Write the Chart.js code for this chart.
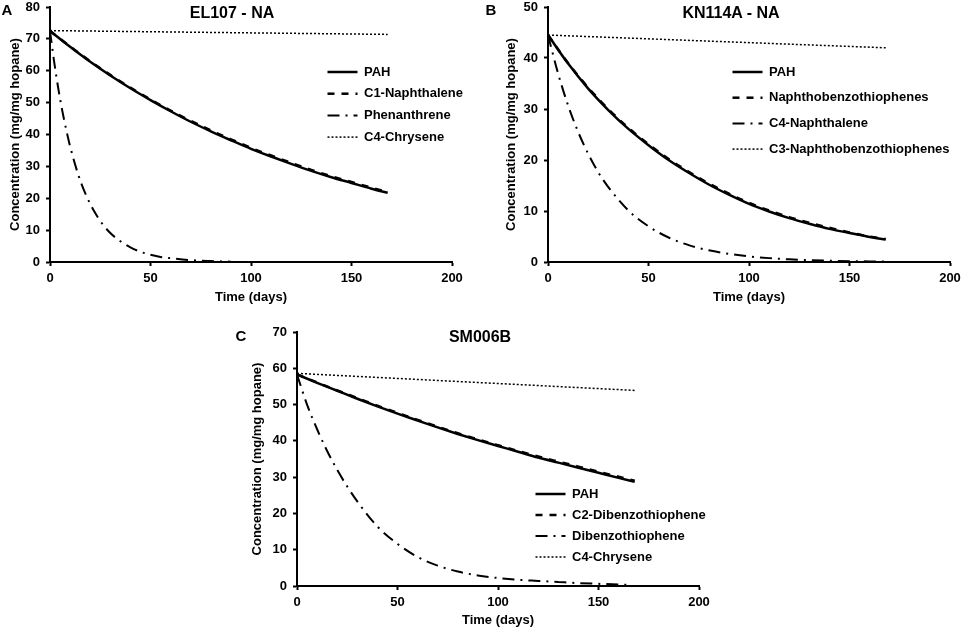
<!DOCTYPE html>
<html><head><meta charset="utf-8">
<script src="https://cdn.jsdelivr.net/npm/chart.js@4.4.0/dist/chart.umd.min.js"></script>
<style>
html,body{margin:0;padding:0;background:#fff;}
body{width:964px;height:630px;position:relative;overflow:hidden;font-family:"Liberation Sans",Arial,sans-serif;}
canvas{position:absolute;}
.lbl{position:absolute;font-weight:bold;color:#000;transform:translate(-50%,-50%);white-space:nowrap;line-height:1;}
</style></head><body>
<canvas id="cA" width="480" height="310" style="left:0;top:0;width:480px;height:310px"></canvas>
<canvas id="cB" width="484" height="310" style="left:480px;top:0;width:484px;height:310px"></canvas>
<canvas id="cC" width="500" height="320" style="left:230px;top:310px;width:500px;height:320px"></canvas>
<div class="lbl" style="left:7px;top:9px;font-size:15px">A</div>
<div class="lbl" style="left:232px;top:13px;font-size:16px">EL107 - NA</div>
<div class="lbl" style="left:491px;top:9px;font-size:15px">B</div>
<div class="lbl" style="left:731px;top:13px;font-size:16px">KN114A - NA</div>
<div class="lbl" style="left:241px;top:335px;font-size:15px">C</div>
<div class="lbl" style="left:480px;top:337px;font-size:16px">SM006B</div>
<script>
// ---------- data ----------
const xAxisTitle = 'Time (days)';
const yAxisTitle = 'Concentration (mg/mg hopane)';
const xMax = 200, xStep = 50;

const days = [0,10,20,30,40,50,60,70,80,90,100,110,120,130,140,150,160,168];
const chryDays = [0, 168];

// Panel A: EL107 - NA
const yMaxA = 80;
const namesA = ['PAH', 'C1-Naphthalene', 'Phenanthrene', 'C4-Chrysene'];
const pahA   = [72.5,67.5,62.8,58.5,54.5,50.8,47.3,44.0,41.0,38.2,35.5,33.1,30.8,28.6,26.6,24.8,23.0,21.7];
const c1NaphA = [72.5,67.6,63.0,58.7,54.7,51.0,47.5,44.3,41.3,38.5,35.8,33.4,31.1,28.9,26.9,25.1,23.3,21.9];
const phenDaysA = [0,2,4,6,8,10,14,18,22,26,30,35,40,45,50,55,60,70,80,90];
const phenA = [72.5,63.1,54.9,47.8,41.7,36.3,27.5,20.9,15.9,12.0,9.1,6.5,4.6,3.2,2.3,1.6,1.2,0.6,0.3,0.1];
const chryA = [72.6, 71.4];

// Panel B: KN114A - NA
const yMaxB = 50;
const namesB = ['PAH', 'Naphthobenzothiophenes', 'C4-Naphthalene', 'C3-Naphthobenzothiophenes'];
const pahB  = [44.5,38.9,34.0,29.8,26.1,22.9,20.0,17.5,15.2,13.2,11.4,9.9,8.6,7.5,6.5,5.7,4.9,4.4];
const nbtB  = [44.5,39.0,34.2,30.0,26.3,23.1,20.2,17.7,15.4,13.4,11.6,10.1,8.8,7.7,6.7,5.8,5.0,4.5];
const c4NaphDaysB = [0,5,10,15,20,25,30,40,50,60,70,80,90,100,110,120,130,140,150,160,168];
const c4NaphB = [44.5,37.0,30.7,25.5,21.2,17.6,14.7,10.1,7.0,4.8,3.3,2.3,1.6,1.1,0.76,0.53,0.36,0.25,0.17,0.12,0.09];
const c3NbtB = [44.5, 42.0];

// Panel C: SM006B
const yMaxC = 70;
const namesC = ['PAH', 'C2-Dibenzothiophene', 'Dibenzothiophene', 'C4-Chrysene'];
const pahC  = [58.3,56.0,53.8,51.6,49.5,47.5,45.6,43.7,41.9,40.2,38.6,37.0,35.4,34.0,32.6,31.2,29.8,28.7];
const c2DbtC = [58.3,56.1,53.9,51.8,49.7,47.7,45.8,43.9,42.1,40.4,38.8,37.2,35.7,34.3,32.9,31.5,30.1,29.0];
const dbtDaysC = [0,5,10,15,20,25,30,40,50,60,70,80,90,100,110,120,130,140,150,160,166];
const dbtC = [58.3,50.0,43.2,37.2,32.0,27.4,23.3,16.4,11.6,8.0,5.6,4.0,2.9,2.2,1.7,1.4,1.1,0.8,0.6,0.4,0.3];
const chryC = [58.6, 53.9];

// ---------- helpers ----------
const FONT = '"Liberation Sans", Arial, sans-serif';
function pts(xs, ys) { return xs.map((x, i) => ({x: x, y: ys[i]})); }
const STYLES = {
  solid:   {borderWidth: 2.5, borderDash: []},
  dashed:  {borderWidth: 2.5, borderDash: [7, 7]},
  dashdot: {borderWidth: 2,   borderDash: [12, 6, 2, 6]},
  dotted:  {borderWidth: 1.5, borderDash: [2, 2]}
};
function ds(label, xs, ys, style) {
  return Object.assign({
    label: label, data: pts(xs, ys), borderColor: '#000', backgroundColor: '#000',
    pointRadius: 0, pointHoverRadius: 0, fill: false, cubicInterpolationMode: 'monotone',
    borderCapStyle: 'butt', clip: 6
  }, STYLES[style]);
}

const legendPlace = {
  id: 'legendPlace',
  afterLayout(chart, args, o) {
    const lg = chart.legend;
    if (!lg || !o || o.textX === undefined) return;
    const fs = 13, bw = 30;
    const w = lg.width, h = lg.height;
    lg.left = o.textX - fs / 2 - bw - o.padding;
    lg.top = o.firstY - fs / 2 - o.padding;
    lg.right = lg.left + w;
    lg.bottom = lg.top + h;
  }
};

function legendLabels(chart) {
  const items = Chart.defaults.plugins.legend.labels.generateLabels(chart);
  items.forEach(it => {
    const d = chart.data.datasets[it.datasetIndex];
    it.lineDash = d.borderDash;
    it.lineWidth = d.borderWidth;
    it.lineDashOffset = 0;
    it.strokeStyle = '#000';
    it.fillStyle = '#000';
    it.pointStyle = 'line';
    it.lineCap = 'butt';
  });
  return items;
}

function makeChart(id, datasets, yMax, L) {
  const tickFont = {family: FONT, size: 13, weight: 'bold'};
  new Chart(document.getElementById(id), {
    type: 'line',
    data: {datasets: datasets},
    plugins: [legendPlace],
    options: {
      responsive: false,
      animation: false,
      events: [],
      layout: {padding: {left: 0, top: L.top, right: L.right, bottom: 0}},
      plugins: {
        tooltip: {enabled: false},
        title: {display: false},
        legend: {
          display: true, position: 'chartArea', fullSize: false, align: 'start',
          labels: {
            color: '#000', font: {family: FONT, size: 13, weight: 'bold'},
            usePointStyle: true, pointStyle: 'line', pointStyleWidth: 30,
            padding: L.legPad, generateLabels: legendLabels
          }
        },
        legendPlace: {textX: L.legX, firstY: L.legY, padding: L.legPad}
      },
      scales: {
        x: {
          type: 'linear', min: 0, max: xMax,
          ticks: {stepSize: xStep, color: '#000', font: tickFont, padding: 5, maxRotation: 0},
          grid: {display: true, drawOnChartArea: false, drawTicks: true, tickLength: 4, tickWidth: 2, tickColor: '#000'},
          border: {display: true, color: '#000', width: 2},
          title: {display: true, text: xAxisTitle, color: '#000', font: {family: FONT, size: 13, weight: 'bold'}, padding: {top: 0, bottom: L.xTitlePad}},
          afterFit(s) { s.height = L.xH; s.paddingLeft = 0; s.paddingRight = 0; }
        },
        y: {
          type: 'linear', min: 0, max: yMax,
          ticks: {stepSize: 10, color: '#000', font: tickFont, padding: 6},
          grid: {display: true, drawOnChartArea: false, drawTicks: true, tickLength: 4, tickWidth: 2, tickColor: '#000'},
          border: {display: true, color: '#000', width: 2},
          title: {display: true, text: yAxisTitle, color: '#000', font: {family: FONT, size: 13, weight: 'bold'}, padding: {top: L.yTitlePad, bottom: 0}},
          afterFit(s) { s.width = L.yW; s.paddingTop = 0; s.paddingBottom = 0; }
        }
      }
    }
  });
}

makeChart('cA', [
  ds(namesA[0], days, pahA, 'solid'),
  ds(namesA[1], days, c1NaphA, 'dashed'),
  ds(namesA[2], phenDaysA, phenA, 'dashdot'),
  ds(namesA[3], chryDays, chryA, 'dotted')
], yMaxA, {top: 7, right: 28, yW: 50, xH: 48, yTitlePad: 8, xTitlePad: 5, legX: 364, legY: 72, legPad: 8.7});

makeChart('cB', [
  ds(namesB[0], days, pahB, 'solid'),
  ds(namesB[1], days, nbtB, 'dashed'),
  ds(namesB[2], c4NaphDaysB, c4NaphB, 'dashdot'),
  ds(namesB[3], chryDays, c3NbtB, 'dotted')
], yMaxB, {top: 7, right: 14, yW: 68, xH: 48, yTitlePad: 24, xTitlePad: 5, legX: 289, legY: 72, legPad: 12.7});

makeChart('cC', [
  ds(namesC[0], days, pahC, 'solid'),
  ds(namesC[1], days, c2DbtC, 'dashed'),
  ds(namesC[2], dbtDaysC, dbtC, 'dashdot'),
  ds(namesC[3], chryDays, chryC, 'dotted')
], yMaxC, {top: 22, right: 31, yW: 67, xH: 44, yTitlePad: 20, xTitlePad: 2, legX: 342, legY: 184, legPad: 8});
</script>
</body></html>
